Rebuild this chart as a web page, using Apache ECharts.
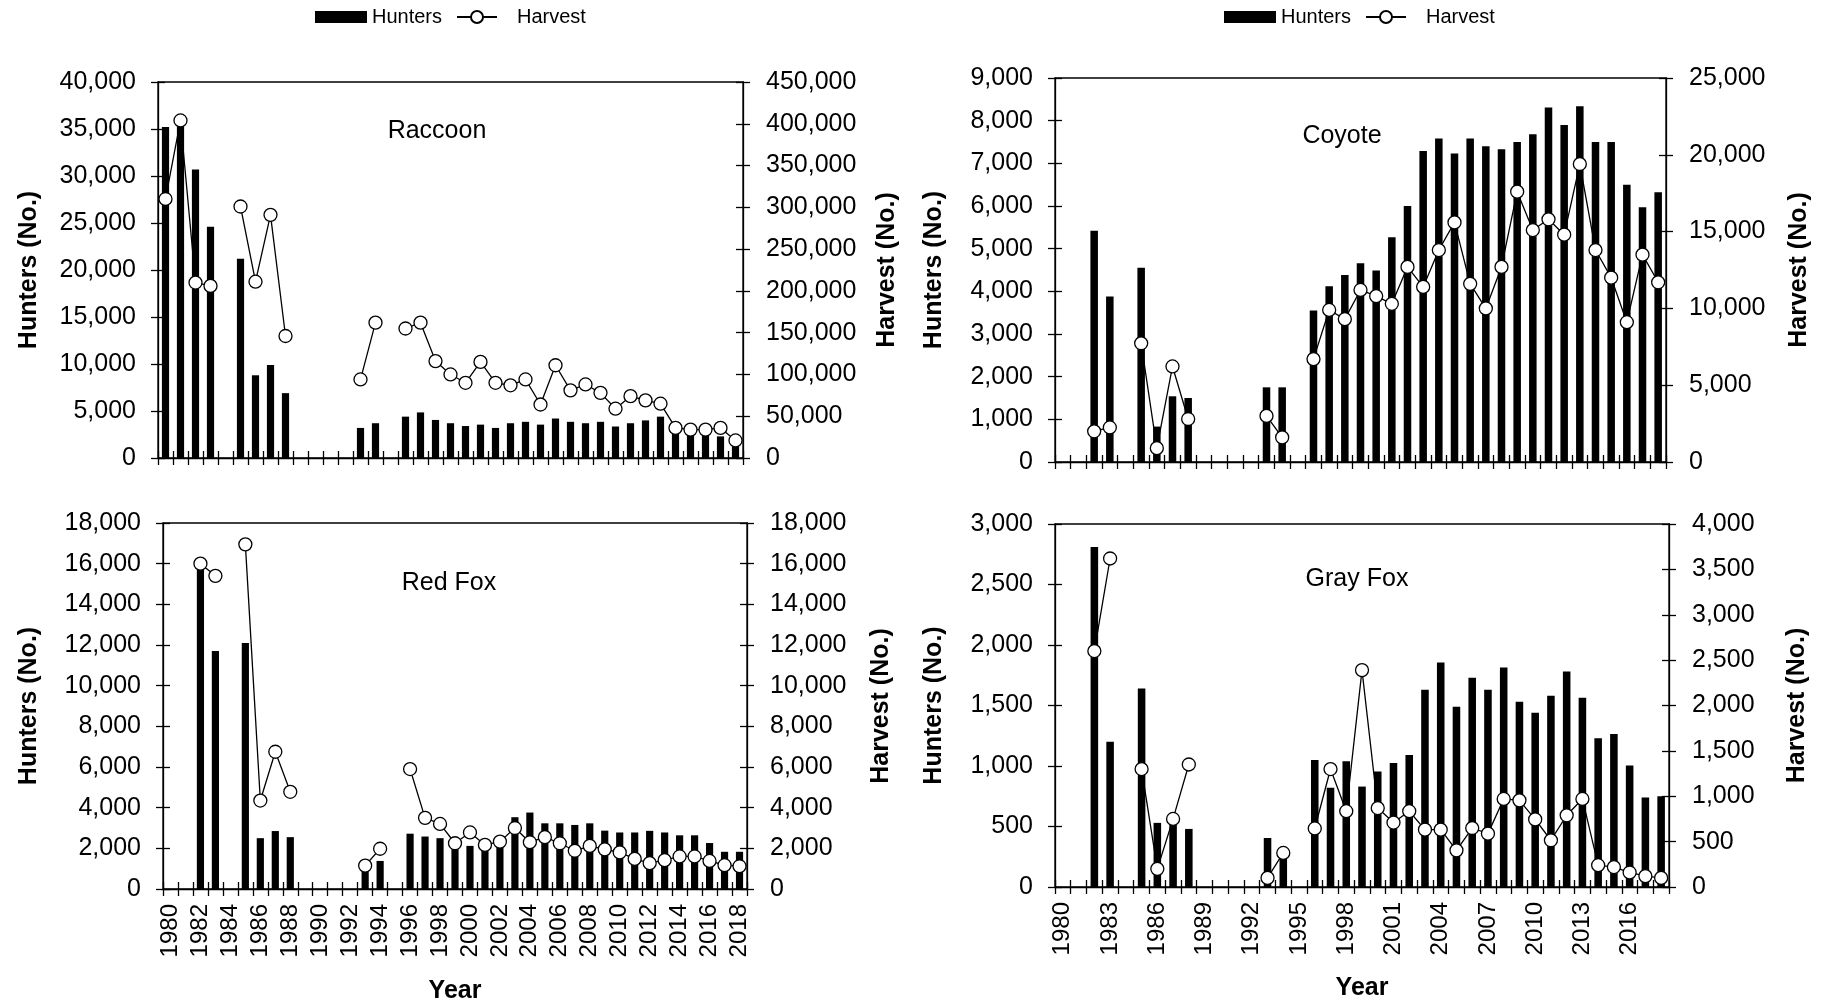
<!DOCTYPE html>
<html><head><meta charset="utf-8">
<script src="https://cdn.jsdelivr.net/npm/echarts@6/dist/echarts.min.js"></script>
<style>html,body{margin:0;padding:0;background:#fff}#c{width:1824px;height:1000px}</style>
</head><body><div id="c"></div>
<script>
// ---------- DATA ----------
const years = ['1980','1981','1982','1983','1984','1985','1986','1987','1988','1989','1990','1991','1992','1993','1994','1995','1996','1997','1998','1999','2000','2001','2002','2003','2004','2005','2006','2007','2008','2009','2010','2011','2012','2013','2014','2015','2016','2017','2018'];

const raccoonHunters = [35200,35800,30700,24600,null,21200,8800,9900,6900,null,null,null,null,3200,3700,null,4400,4850,4050,3700,3400,3550,3200,3700,3850,3550,4200,3850,3700,3850,3350,3700,4000,4400,2900,2700,2700,2300,1600];
const raccoonHarvest = [310000,404000,210000,206000,null,301000,211000,291000,146000,null,null,null,null,94000,162000,null,155000,162000,116000,100000,90000,115000,90000,87000,94000,64000,111000,81000,88000,78000,59000,74000,69000,65000,36000,34000,34000,36000,21000];

const coyoteHunters = [null,null,5420,3880,null,4550,830,1540,1500,null,null,null,null,1750,1750,null,3550,4120,4380,4660,4490,5270,6000,7290,7580,7230,7580,7400,7330,7500,7680,8310,7900,8340,7500,7500,6500,5970,6320];
const coyoteHarvest = [null,null,2000,2250,null,7730,900,6220,2800,null,null,null,null,3000,1600,null,6700,9900,9300,11200,10800,10300,12700,11400,13800,15600,11600,10000,12700,17600,15100,15800,14800,19400,13800,12000,9100,13500,11700];

const redFoxHunters = [null,null,15800,11700,null,12100,2500,2850,2550,null,null,null,null,1000,1380,null,2720,2580,2500,2300,2120,2200,2450,3530,3760,3230,3230,3150,3230,2870,2780,2780,2860,2780,2640,2640,2260,1830,1830];
const redFoxHarvest = [null,null,16000,15400,null,16950,4350,6750,4780,null,null,null,null,1150,1980,null,5900,3500,3200,2250,2780,2170,2330,3000,2300,2550,2250,1880,2120,1950,1800,1480,1270,1420,1600,1600,1380,1170,1120];

const grayFoxHunters = [null,null,2810,1200,null,1640,530,540,480,null,null,null,null,405,280,null,1050,820,1040,830,955,1025,1090,1630,1855,1490,1730,1630,1815,1530,1440,1580,1780,1565,1230,1265,1005,740,750];
const grayFoxHarvest = [null,null,2600,3620,null,1300,200,750,1350,null,null,null,null,100,375,null,645,1300,835,2390,870,710,835,632,632,404,650,588,970,955,745,515,790,970,240,220,160,120,100];

const panelNames = ['Raccoon','Coyote','Red Fox','Gray Fox'];
const leftMax = [40000, 9000, 18000, 3000];
const leftInterval = [5000, 1000, 2000, 500];
const rightMax = [450000, 25000, 18000, 4000];
const rightInterval = [50000, 5000, 2000, 500];
const huntersData = [raccoonHunters, coyoteHunters, redFoxHunters, grayFoxHunters];
const harvestData = [raccoonHarvest, coyoteHarvest, redFoxHarvest, grayFoxHarvest];

// ---------- LAYOUT ----------
const F = "'Liberation Sans', Arial, Helvetica, sans-serif";
const grids = [
  {left:158, top:82, width:585, height:376},
  {left:1055, top:78, width:611, height:384},
  {left:163, top:523, width:584, height:366},
  {left:1055, top:524, width:614, height:363}
];
const xLabelShow = [false, false, true, true];
const xLabelInterval = [1, 2, 1, 2];
const leftNameGap = [116, 108, 121, 108];
const rightNameGap = [132, 121, 122, 116];
const yearNameGap = [0, 0, 90, 89];
const titlePos = [[437,131],[1342,136],[449,583],[1357,579]];

function fmt(v){ return String(v).replace(/\B(?=(\d{3})+(?!\d))/g, ','); }
const LW = 1.3;
const black = '#000';

const xAxes = [], yAxes = [], series = [];
for (let i = 0; i < 4; i++) {
  xAxes[i] = {
    type:'category', gridIndex:i, data:years, position:'bottom', boundaryGap:true,
    axisLine:{show:true, onZero:false, lineStyle:{color:black, width:LW}},
    axisTick:{show:true, interval:0, length:7, inside:false, lineStyle:{color:black, width:LW}},
    axisLabel:{show:xLabelShow[i], interval:xLabelInterval[i], rotate:90, margin:15, color:black, fontSize:24, fontFamily:F},
    splitLine:{show:false},
    name: xLabelShow[i] ? 'Year' : '', nameLocation:'middle', nameGap:yearNameGap[i],
    nameTextStyle:{color:black, fontSize:25, fontWeight:'bold', fontFamily:F}
  };
  xAxes[4+i] = {
    type:'category', gridIndex:i, data:years, position:'bottom', boundaryGap:true,
    axisLine:{show:false, onZero:false},
    axisTick:{show:true, interval:0, length:7, inside:true, lineStyle:{color:black, width:LW}},
    axisLabel:{show:false}, splitLine:{show:false}
  };
  const common = {type:'value', gridIndex:i, min:0, splitLine:{show:false}};
  yAxes[4*i] = Object.assign({}, common, {
    position:'left', max:leftMax[i], interval:leftInterval[i],
    axisLine:{show:true, lineStyle:{color:black, width:LW}},
    axisTick:{show:true, length:7, inside:false, lineStyle:{color:black, width:LW}},
    axisLabel:{show:true, margin:22, color:black, fontSize:25, fontFamily:F, formatter:fmt},
    name:'Hunters (No.)', nameLocation:'middle', nameRotate:90, nameGap:leftNameGap[i],
    nameTextStyle:{color:black, fontSize:25, fontWeight:'bold', fontFamily:F}
  });
  yAxes[4*i+1] = Object.assign({}, common, {
    position:'right', max:rightMax[i], interval:rightInterval[i],
    axisLine:{show:true, lineStyle:{color:black, width:LW}},
    axisTick:{show:true, length:7, inside:false, lineStyle:{color:black, width:LW}},
    axisLabel:{show:true, margin:23, color:black, fontSize:25, fontFamily:F, formatter:fmt},
    name:'Harvest (No.)', nameLocation:'middle', nameRotate:90, nameGap:rightNameGap[i],
    nameTextStyle:{color:black, fontSize:25, fontWeight:'bold', fontFamily:F}
  });
  yAxes[4*i+2] = Object.assign({}, common, {
    position:'left', max:leftMax[i], interval:leftInterval[i],
    axisLine:{show:false},
    axisTick:{show:true, length:7, inside:true, lineStyle:{color:black, width:LW}},
    axisLabel:{show:false}
  });
  yAxes[4*i+3] = Object.assign({}, common, {
    position:'right', max:rightMax[i], interval:rightInterval[i],
    axisLine:{show:false},
    axisTick:{show:true, length:7, inside:true, lineStyle:{color:black, width:LW}},
    axisLabel:{show:false}
  });
  series.push({
    name:'Hunters', type:'bar', xAxisIndex:i, yAxisIndex:4*i, data:huntersData[i],
    barWidth:'48%', itemStyle:{color:black}, z:2, animation:false
  });
  series.push({
    name:'Harvest', type:'line', xAxisIndex:i, yAxisIndex:4*i+1, data:harvestData[i],
    connectNulls:false, symbol:'circle', symbolSize:13, showAllSymbol:true,
    lineStyle:{color:black, width:LW},
    itemStyle:{color:'#fff', borderColor:black, borderWidth:LW},
    z:3, animation:false
  });
}

const legendText = {color:black, fontSize:20, fontFamily:F};
const legends = [];
[0, 909].forEach(function(dx){
  legends.push({data:[{name:'Hunters', icon:'rect'}], left:315+dx, top:7, padding:0, itemWidth:52, itemHeight:12, selectedMode:false, textStyle:legendText});
  legends.push({data:['Harvest'], left:456+dx, top:7, padding:0, itemWidth:40, itemHeight:15, selectedMode:false,
    textStyle:Object.assign({}, legendText, {padding:[0,0,0,15]})});
});

const graphics = panelNames.map(function(n, i){
  return {type:'text', x:titlePos[i][0], y:titlePos[i][1], z:10,
    style:{text:n, fill:black, font:'25px ' + F, textAlign:'center', textVerticalAlign:'middle'}};
});

const chart = echarts.init(document.getElementById('c'), null, {renderer:'canvas', width:1824, height:1000});
chart.setOption({
  animation:false,
  backgroundColor:'#fff',
  grid: grids.map(function(g){ return Object.assign({show:true, borderColor:black, borderWidth:LW, backgroundColor:'transparent', containLabel:false, outerBoundsMode:'none'}, g); }),
  legend: legends,
  xAxis: xAxes,
  yAxis: yAxes,
  series: series,
  graphic: graphics
});
</script></body></html>
